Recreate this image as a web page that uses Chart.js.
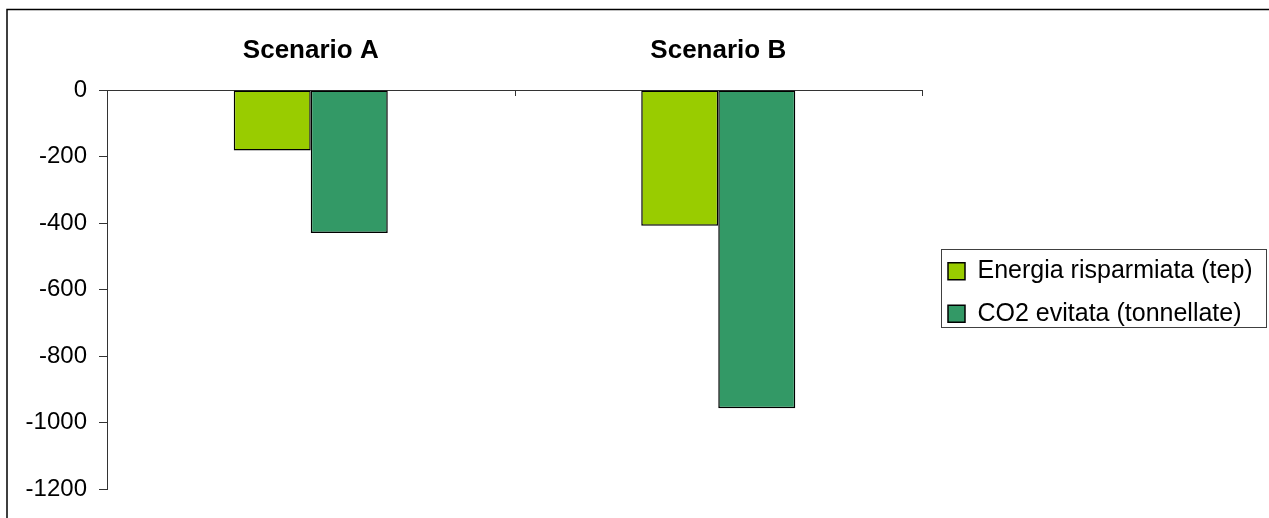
<!DOCTYPE html>
<html>
<head>
<meta charset="utf-8">
<script src="https://cdn.jsdelivr.net/npm/chart.js@4.4.1/dist/chart.umd.min.js"></script>
<style>
  html, body { margin: 0; padding: 0; background: #fff; overflow: hidden; }
  canvas { display: block; }
</style>
</head>
<body>
<canvas id="chart" width="1269" height="518"></canvas>
<script>
// Data
const categories = ['Scenario A', 'Scenario B'];
const energiaRisparmiata = [-182, -408];
const co2Evitata = [-430, -957];
const seriesNames = ['Energia risparmiata (tep)', 'CO2 evitata (tonnellate)'];
const seriesColors = ['#99CC00', '#339966'];
const yMin = -1200, yMax = 0, yStep = 200;

const FONT = "'Liberation Sans', Arial, Helvetica, sans-serif";
const AXIS_COLOR = '#333333';

// Outer frame of the chart object (left and top edges)
const framePlugin = {
  id: 'frame',
  beforeDraw(chart) {
    const ctx = chart.ctx;
    ctx.save();
    ctx.fillStyle = '#ffffff';
    ctx.fillRect(0, 0, chart.width, chart.height);
    ctx.strokeStyle = '#000000';
    ctx.lineWidth = 1.5;
    ctx.beginPath();
    ctx.moveTo(7, chart.height);
    ctx.lineTo(7, 9.5);
    ctx.lineTo(chart.width, 9.5);
    ctx.stroke();
    ctx.restore();
  }
};

// Category boundary tick marks pointing into the plot, below the zero line
const innerTicksPlugin = {
  id: 'innerTicks',
  afterDraw(chart) {
    const xs = chart.scales.x;
    const top = chart.chartArea.top;
    const ctx = chart.ctx;
    ctx.save();
    ctx.strokeStyle = AXIS_COLOR;
    ctx.lineWidth = 1;
    ctx.beginPath();
    for (let i = 0; i < categories.length; i++) {
      const px = Math.round(xs.getPixelForValue(i + 0.5)) + 0.5;
      ctx.moveTo(px, top);
      ctx.lineTo(px, top + 6);
    }
    ctx.stroke();
    ctx.restore();
  }
};

// Legend placed to the right of the plot, with a framed box
const LEGEND_FONT = 25;
const LEGEND_PAD = 17.4;
const legendPlacePlugin = {
  id: 'legendPlace',
  afterLayout(chart) {
    const lg = chart.legend;
    if (!lg) return;
    const area = chart.chartArea;
    lg.left = area.right + 26 - LEGEND_PAD;
    lg.right = chart.width;
    lg.top = 271.3 - LEGEND_FONT / 2 - LEGEND_PAD;
    lg.bottom = chart.height;
    lg.width = lg.right - lg.left;
    lg.height = lg.bottom - lg.top;
  },
  afterDraw(chart) {
    const area = chart.chartArea;
    const ctx = chart.ctx;
    ctx.save();
    ctx.strokeStyle = '#404040';
    ctx.lineWidth = 1;
    ctx.strokeRect(Math.round(area.right + 19) + 0.5, 249.5, 325, 78);
    ctx.restore();
  }
};

new Chart(document.getElementById('chart'), {
  type: 'bar',
  data: {
    labels: categories,
    datasets: [
      {
        label: seriesNames[0],
        data: energiaRisparmiata,
        backgroundColor: seriesColors[0],
        borderColor: '#000000',
        borderWidth: 1.5,
        borderSkipped: false
      },
      {
        label: seriesNames[1],
        data: co2Evitata,
        backgroundColor: seriesColors[1],
        borderColor: '#000000',
        borderWidth: 1.5,
        borderSkipped: false
      }
    ]
  },
  options: {
    responsive: false,
    animation: false,
    devicePixelRatio: 1,
    layout: { padding: { left: 0, top: 0, right: 347, bottom: 29 } },
    datasets: {
      bar: { categoryPercentage: 0.378, barPercentage: 1 }
    },
    plugins: {
      title: { display: false },
      tooltip: { enabled: false },
      legend: {
        display: true,
        position: 'chartArea',
        align: 'start',
        labels: {
          font: { family: FONT, size: LEGEND_FONT },
          color: '#000000',
          boxWidth: 17,
          boxHeight: 17,
          padding: LEGEND_PAD
        }
      }
    },
    scales: {
      x: {
        position: 'top',
        grid: { display: false, drawTicks: false },
        border: { display: true, color: AXIS_COLOR, width: 1 },
        ticks: {
          color: '#000000',
          font: { family: FONT, size: 26, weight: 'bold' },
          padding: 24,
          maxRotation: 0
        },
        afterFit(scale) { scale.height = 90; }
      },
      y: {
        min: yMin,
        max: yMax,
        grid: {
          drawOnChartArea: false,
          drawTicks: true,
          tickLength: 8,
          color: AXIS_COLOR,
          lineWidth: 1
        },
        border: { display: true, color: AXIS_COLOR, width: 1 },
        ticks: {
          stepSize: yStep,
          color: '#000000',
          font: { family: FONT, size: 24 },
          padding: 12,
          callback: (v) => String(v)
        },
        afterFit(scale) { scale.width = 107; }
      }
    }
  },
  plugins: [framePlugin, innerTicksPlugin, legendPlacePlugin]
});
</script>
</body>
</html>
